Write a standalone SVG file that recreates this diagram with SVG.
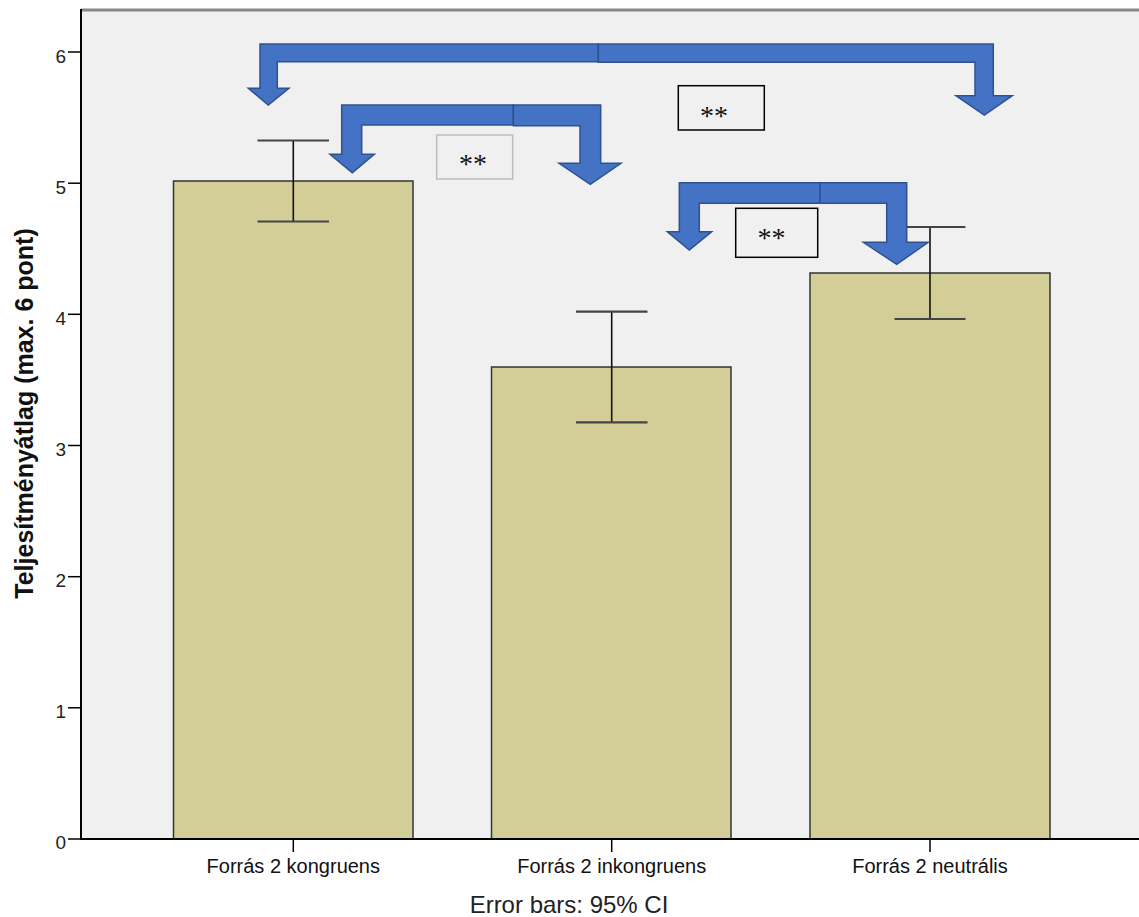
<svg xmlns="http://www.w3.org/2000/svg" width="1139" height="917" viewBox="0 0 1139 917">
<style>
.axis{stroke:#000;stroke-width:2;fill:none}
.tick{stroke:#000;stroke-width:1.5}
.tl{font-family:"Liberation Sans",Arial,sans-serif;font-size:19px;fill:#222;text-anchor:end}
.cat{font-family:"Liberation Sans",Arial,sans-serif;font-size:20px;fill:#111;text-anchor:middle}
.bar{fill:#D3CE98;stroke:#333;stroke-width:1.5}
.err{stroke:#111;stroke-width:1.6;fill:none}
.cap{stroke:#444;stroke-width:2.2;fill:none}
.arr{fill:#4472C4;stroke:#2F528F;stroke-width:1.5;stroke-linejoin:miter}
.box{fill:#f0f0f0;stroke:#000;stroke-width:1.5}
.boxg{fill:#f0f0f0;stroke:#bdbdbd;stroke-width:1.5}
.star{font-family:"Liberation Serif","Times New Roman",serif;font-size:28px;fill:#111;text-anchor:middle}
</style>
<rect x="0" y="0" width="1139" height="917" fill="#fff"/>
<g id="plot-area">
<rect x="81" y="10" width="1058" height="829" fill="#f0f0f0"/>
<line x1="81" y1="10" x2="1139" y2="10" stroke="#888" stroke-width="3"/>
</g>
<g id="y-axis">
<line class="axis" x1="81" y1="9" x2="81" y2="840"/>
<line class="tick" x1="68" y1="839" x2="81" y2="839"/>
<line class="tick" x1="68" y1="707.8" x2="81" y2="707.8"/>
<line class="tick" x1="68" y1="576.7" x2="81" y2="576.7"/>
<line class="tick" x1="68" y1="445.5" x2="81" y2="445.5"/>
<line class="tick" x1="68" y1="314.3" x2="81" y2="314.3"/>
<line class="tick" x1="68" y1="183.2" x2="81" y2="183.2"/>
<line class="tick" x1="68" y1="52" x2="81" y2="52"/>
<text class="tl" x="66" y="849">0</text>
<text class="tl" x="66" y="718">1</text>
<text class="tl" x="66" y="587">2</text>
<text class="tl" x="66" y="456">3</text>
<text class="tl" x="66" y="324.5">4</text>
<text class="tl" x="66" y="193.5">5</text>
<text class="tl" x="66" y="62.5">6</text>
<text x="33" y="413.5" transform="rotate(-90 33 413.5)" font-family="'Liberation Sans',Arial,sans-serif" font-size="25" font-weight="bold" fill="#111" text-anchor="middle">Teljesítményátlag (max. 6 pont)</text>
</g>
<g id="bar-kongruens">
<rect class="bar" x="173.5" y="181" width="239.5" height="658"/>
<line class="err" x1="293.3" y1="140.5" x2="293.3" y2="221.5"/>
<line class="cap" x1="257.5" y1="140.5" x2="329" y2="140.5"/>
<line class="cap" x1="257.5" y1="221.5" x2="329" y2="221.5"/>
</g>
<g id="bar-inkongruens">
<rect class="bar" x="491.5" y="367" width="239.5" height="472"/>
<line class="err" x1="611.7" y1="311.7" x2="611.7" y2="422.3"/>
<line class="cap" x1="576" y1="311.7" x2="647.5" y2="311.7"/>
<line class="cap" x1="576" y1="422.3" x2="647.5" y2="422.3"/>
</g>
<g id="bar-neutralis">
<rect class="bar" x="810" y="273" width="240" height="566"/>
<line class="err" x1="930" y1="227" x2="930" y2="319"/>
<line class="cap" x1="894.5" y1="227" x2="965.5" y2="227"/>
<line class="cap" x1="894.5" y1="319" x2="965.5" y2="319"/>
</g>
<g id="x-axis">
<line class="axis" x1="80" y1="839" x2="1139" y2="839"/>
<line class="tick" x1="293.3" y1="839" x2="293.3" y2="852"/>
<line class="tick" x1="611.7" y1="839" x2="611.7" y2="852"/>
<line class="tick" x1="930" y1="839" x2="930" y2="852"/>
<text class="cat" x="293.3" y="873">Forrás 2 kongruens</text>
<text class="cat" x="611.7" y="873">Forrás 2 inkongruens</text>
<text class="cat" x="930" y="873">Forrás 2 neutrális</text>
<text x="569" y="913" font-family="'Liberation Sans',Arial,sans-serif" font-size="24" fill="#222" text-anchor="middle">Error bars: 95% CI</text>
</g>
<g id="connectors">
<polygon class="arr" points="598.3,44 260,44 260,88.3 248.3,88.3 268.3,105 289,88.3 277.3,88.3 277.3,61.7 598.3,61.7"/>
<polygon class="arr" points="598.3,44 993.3,44 993.3,95.7 1012.3,95.7 984.3,115 956,95.7 975,95.7 975,62.3 598.3,62.3"/>
<polygon class="arr" points="513.3,105 341.7,105 341.7,154.3 330,154.3 352.3,172.7 374.3,154.3 361.7,154.3 361.7,125 513.3,125"/>
<polygon class="arr" points="513.3,105 600.7,105 600.7,163.3 621,163.3 590.3,184.3 559,163.3 580,163.3 580,125.7 513.3,125.7"/>
<polygon class="arr" points="820,182.7 679.3,182.7 679.3,231.7 667.3,231.7 689.3,250 711.7,231.7 699.3,231.7 699.3,203.3 820,203.3"/>
<polygon class="arr" points="820,182.7 906.7,182.7 906.7,242.3 928.3,242.3 896.7,264.3 863.3,242.3 886.7,242.3 886.7,203.3 820,203.3"/>
</g>
<g id="sig-top">
<rect class="box" x="678.3" y="85.7" width="86" height="44.3"/>
<text class="star" x="714" y="124.5">**</text>
</g>
<g id="sig-middle">
<rect class="boxg" x="436.7" y="135" width="76" height="44"/>
<text class="star" x="473" y="173">**</text>
</g>
<g id="sig-right">
<rect class="box" x="735.7" y="208.3" width="82" height="49"/>
<text class="star" x="771.5" y="246.5">**</text>
</g>
</svg>
